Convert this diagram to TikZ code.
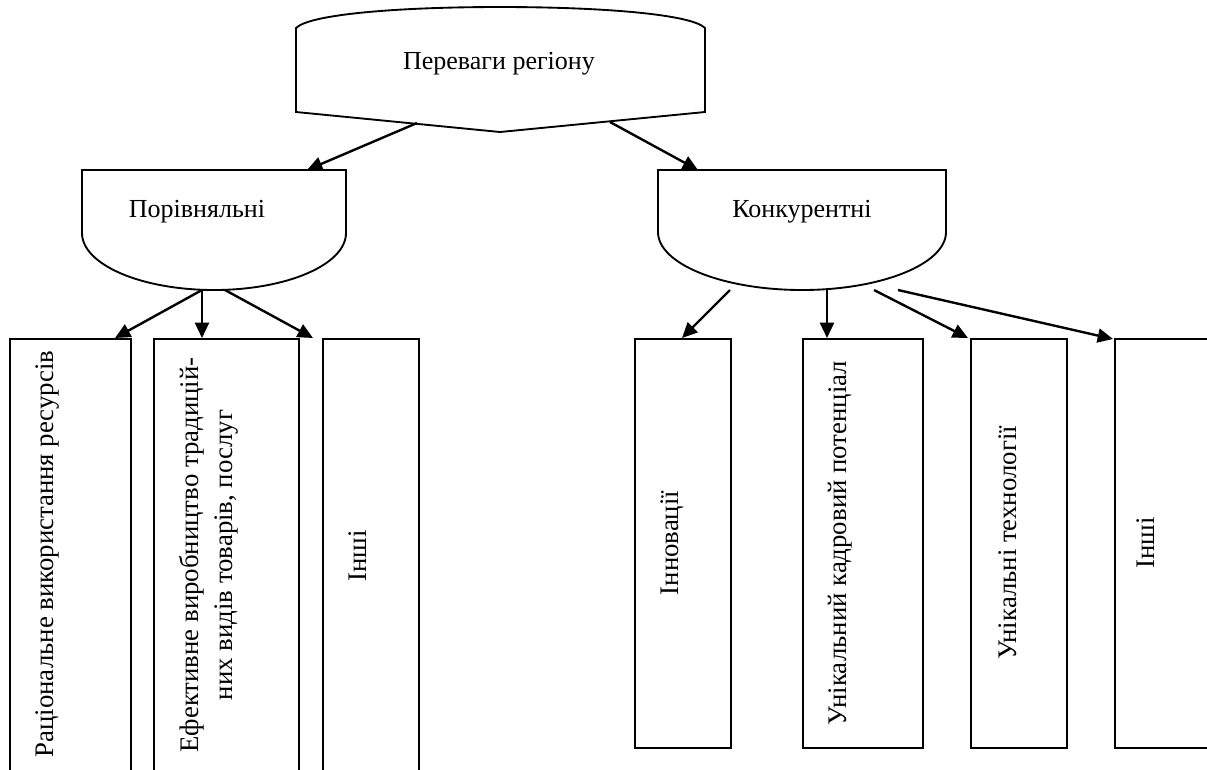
\documentclass[tikz,border=0pt]{standalone}
\usepackage{fontspec}
\setmainfont{Liberation Serif}
\usetikzlibrary{arrows.meta}
\begin{document}
\begin{tikzpicture}[x=0.75pt,y=-0.75pt,
  shp/.style={line width=1.4pt},
  boxn/.style={draw,line width=1.4pt,inner sep=0pt,anchor=north west},
  arr/.style={line width=1.8pt,-{Triangle[length=11.5pt,width=10.5pt]}},
  lbl/.style={font=\fontsize{19.5}{25}\selectfont,inner sep=0pt},
  vlbl/.style={inner sep=0pt,font=\fontsize{20.1}{25.5}\selectfont,rotate=90,align=center}]
\clip (0,0) rectangle (1207,769);
% top shape
\draw[shp] (296,28) .. controls (310,14) and (400,7) .. (500,7)
  .. controls (600,7) and (691,14) .. (705,28) -- (705,112) -- (500,132) -- (296,112) -- cycle;
\node[lbl] (top) at (499,64) {Переваги регіону};
\coordinate (t1) at (417,123);
\coordinate (t2) at (610,122);
% Porivnyalni
\draw[shp] (82,233) -- (82,170) -- (346,170) -- (346,233)
  .. controls (346,264.5) and (287,290) .. (214,290)
  .. controls (141,290) and (82,264.5) .. (82,233);
\node[lbl] (por) at (197,212) {Порівняльні};
\coordinate (ptop) at (307,170);
\coordinate (pa) at (202,290);
\coordinate (pb) at (225,290);
% Konkurentni
\draw[shp] (658,232) -- (658,170) -- (946,170) -- (946,232)
  .. controls (946,264) and (881.5,290) .. (802,290)
  .. controls (722.5,290) and (658,264) .. (658,232);
\node[lbl] (kon) at (802,212) {Конкурентні};
\coordinate (ktop) at (698,170);
\coordinate (ka) at (730,290);
\coordinate (kb) at (827,290);
\coordinate (kc) at (874,290);
\coordinate (kd) at (898,290);
% boxes left
\node[boxn,minimum width=90.75pt,minimum height=325.5pt] (b1) at (9,338) {};
\node[boxn,minimum width=108.75pt,minimum height=325.5pt] (b2) at (153,338) {};
\node[boxn,minimum width=72pt,minimum height=325.5pt] (b3) at (322,338) {};
% boxes right
\node[boxn,minimum width=72pt,minimum height=306.75pt] (c1) at (634,338) {};
\node[boxn,minimum width=90pt,minimum height=306.75pt] (c2) at (802,338) {};
\node[boxn,minimum width=72pt,minimum height=306.75pt] (c3) at (970,338) {};
\node[boxn,minimum width=79.5pt,minimum height=306.75pt] (c4) at (1114,338) {};
% labels
\node[vlbl] (l1) at (47.5,554) {Раціональне використання ресурсів};
\node[vlbl] (l2) at (209,555) {Ефективне виробництво традицій-\\них видів товарів, послуг};
\node[vlbl] (l3) at (358,556) {Інші};
\node[vlbl] (r1) at (672,543) {Інновації};
\node[vlbl] (r2) at (840,543) {Унікальний кадровий потенціал};
\node[vlbl] (r3) at (1008,543) {Унікальні технології};
\node[vlbl] (r4) at (1146,543) {Інші};
% arrow targets
\coordinate (e1) at (115,338);
\coordinate (e2) at (202,338);
\coordinate (e3) at (313,338);
\coordinate (f1) at (682,338);
\coordinate (f2) at (827,338);
\coordinate (f3) at (968,338);
\coordinate (f4) at (1113,339);
% arrows
\draw[arr] (t1) -- (ptop);
\draw[arr] (t2) -- (ktop);
\draw[arr] (pa) -- (e1);
\draw[arr] (pa) -- (e2);
\draw[arr] (pb) -- (e3);
\draw[arr] (ka) -- (f1);
\draw[arr] (kb) -- (f2);
\draw[arr] (kc) -- (f3);
\draw[arr] (kd) -- (f4);
\end{tikzpicture}
\end{document}
